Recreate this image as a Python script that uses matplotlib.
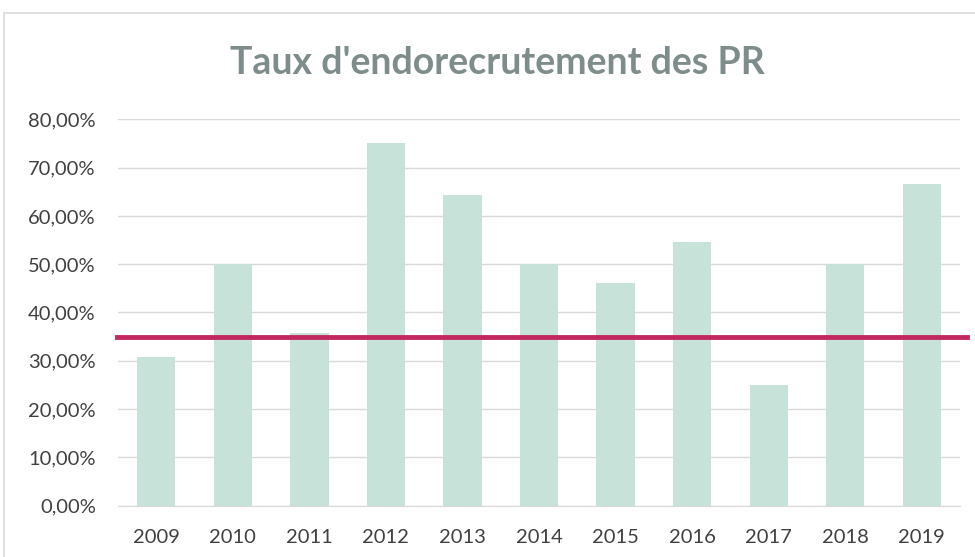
import numpy as np
import matplotlib.pyplot as plt
from matplotlib.patches import Rectangle

years = ["2009", "2010", "2011", "2012", "2013", "2014", "2015", "2016", "2017", "2018", "2019"]
taux = [30.77, 50.0, 35.71, 75.0, 64.29, 50.0, 46.15, 54.55, 25.0, 50.0, 66.67]
moyenne = 35.0

plt.rcParams["font.family"] = ["Lato", "DejaVu Sans"]

fig = plt.figure(figsize=(9.75, 5.57), dpi=100)
ax = fig.add_axes([118 / 975, 1 - 505.7 / 557, (960 - 118) / 975, (505.7 - 119.3) / 557])

# cadre du graphique
fig.patches.append(Rectangle((4 / 975, -0.01), 1.0, 1 - 13 / 557 + 0.01, transform=fig.transFigure,
                             fill=False, edgecolor="#d9d9d9", linewidth=1.2))

x = np.arange(len(years))
ax.bar(x, taux, width=0.5, color="#c7e3d9", zorder=2)
ax.axhline(moyenne, xmin=-0.001, xmax=1.008, color="#c2285f", linewidth=3.5, zorder=3, clip_on=False)

ax.set_xlim(-0.5, len(years) - 0.5)
ax.set_ylim(0, 80)
ax.set_yticks(np.arange(0, 81, 10))
ax.set_yticklabels([f"{v:.2f}%".replace(".", ",") for v in np.arange(0, 81, 10)])
ax.set_xticks(x)
ax.set_xticklabels(years)
ax.grid(axis="y", color="#d9d9d9", linewidth=1.0, zorder=0)
ax.set_axisbelow(True)
for s in ["top", "right", "left"]:
    ax.spines[s].set_visible(False)
ax.spines["bottom"].set_color("#d9d9d9")
ax.tick_params(axis="both", length=0, labelsize=14.5, colors="#404040")
ax.tick_params(axis="y", pad=16)
ax.tick_params(axis="x", pad=17)

fig.text(497 / 975, 1 - 63 / 557, "Taux d'endorecrutement des PR", ha="center", va="center",
         fontsize=27, fontweight="bold", color="#7f8c8c")

fig.savefig("out.png", dpi=100)
